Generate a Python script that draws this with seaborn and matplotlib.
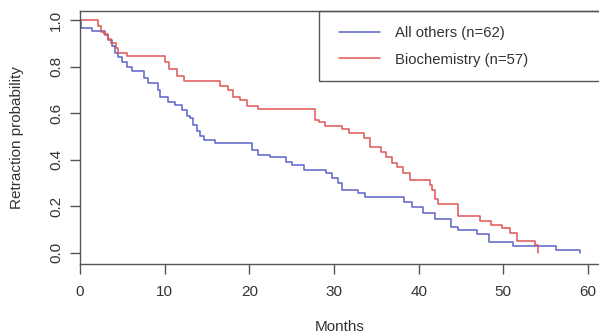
import matplotlib
matplotlib.use("Agg")
import matplotlib.pyplot as plt
import matplotlib.patches as mpatches
import seaborn as sns
import pandas as pd

# ---- data ----
group_labels = ["All others (n=62)", "Biochemistry (n=57)"]

others_months = [0, 0.1, 1.4, 3.0, 3.3, 3.8, 4.1, 4.5, 5.0, 5.5, 6.2, 7.6, 8.0,
                 9.2, 9.5, 10.4, 11.2, 12.0, 12.6, 13.0, 13.4, 13.8, 14.2, 14.7,
                 16.0, 20.3, 21.0, 22.4, 24.3, 25.0, 26.5, 29.1, 29.8, 30.5,
                 31.0, 32.8, 33.7, 38.3, 39.2, 40.5, 41.9, 43.8, 44.7, 46.9,
                 48.3, 51.2, 56.2, 59.0]
others_surv = [1.0, 0.968, 0.952, 0.935, 0.914, 0.89, 0.86, 0.84, 0.82, 0.80,
               0.78, 0.75, 0.73, 0.70, 0.67, 0.65, 0.635, 0.614, 0.59, 0.58,
               0.55, 0.524, 0.50, 0.485, 0.47, 0.44, 0.42, 0.41, 0.39, 0.377,
               0.356, 0.343, 0.32, 0.30, 0.27, 0.257, 0.24, 0.22, 0.197, 0.17,
               0.146, 0.11, 0.099, 0.08, 0.047, 0.03, 0.013, 0.0]

bio_months = [0, 2.1, 2.5, 2.8, 3.3, 3.7, 4.2, 4.5, 5.6, 10.0, 10.5, 11.5,
              12.3, 16.5, 17.5, 18.1, 18.9, 19.7, 21.0, 27.7, 28.2, 28.9,
              31.0, 31.8, 33.6, 34.3, 35.6, 36.2, 36.8, 37.5, 38.2, 39.0,
              41.3, 41.6, 41.9, 42.3, 44.7, 47.2, 48.6, 49.8, 50.8, 51.6,
              53.7, 54.1]
bio_surv = [1.0, 0.975, 0.95, 0.94, 0.92, 0.90, 0.88, 0.86, 0.845, 0.82, 0.79,
            0.76, 0.74, 0.717, 0.70, 0.67, 0.656, 0.63, 0.618, 0.57, 0.56,
            0.545, 0.53, 0.515, 0.494, 0.455, 0.433, 0.41, 0.386, 0.37, 0.345,
            0.315, 0.29, 0.27, 0.23, 0.21, 0.159, 0.137, 0.12, 0.107, 0.086,
            0.05, 0.034, 0.0]

x_ticks = [0, 10, 20, 30, 40, 50, 60]
y_ticks = [0.0, 0.2, 0.4, 0.6, 0.8, 1.0]
y_ticklabels = ["0.0", "0.2", "0.4", "0.6", "0.8", "1.0"]

df = pd.concat([
    pd.DataFrame({"Months": others_months, "surv": others_surv, "group": group_labels[0]}),
    pd.DataFrame({"Months": bio_months, "surv": bio_surv, "group": group_labels[1]}),
], ignore_index=True)

# ---- style ----
sns.set_theme(style="ticks")
plt.rcParams["font.family"] = ["Liberation Sans", "DejaVu Sans"]
text_col = "#333333"
axis_col = "#555555"

W, H = 599, 335
fig = plt.figure(figsize=(W / 100, H / 100), dpi=100)
ax_l, ax_r, ax_t, ax_b = 80, 599, 11, 264
ax = fig.add_axes([ax_l / W, 1 - ax_b / H, (ax_r - ax_l) / W, (ax_b - ax_t) / H])

palette = {group_labels[0]: "#5b63c9", group_labels[1]: "#e05555"}
sns.lineplot(data=df, x="Months", y="surv", hue="group", hue_order=group_labels,
             palette=palette, estimator=None, sort=False, drawstyle="steps-post",
             linewidth=1.1, ax=ax)

ax.set_xlim(0, 61.3)
ax.set_ylim(-0.048, 1.039)
ax.set_xticks(x_ticks)
ax.set_yticks(y_ticks)
ax.set_yticklabels(y_ticklabels)

for s in ["top", "left", "bottom"]:
    ax.spines[s].set_color(axis_col)
    ax.spines[s].set_linewidth(1.0)
ax.spines["right"].set_visible(False)

ax.tick_params(axis="both", direction="out", length=7, width=1.0, color=axis_col,
               labelcolor=text_col, labelsize=11)
ax.tick_params(axis="x", pad=8)
ax.tick_params(axis="y", pad=5, labelrotation=90)
for lab in ax.get_yticklabels():
    lab.set_va("center")

ax.set_xlabel("Months", fontsize=11, color=text_col)
ax.set_ylabel("Retraction probability", fontsize=11, color=text_col)
ax.xaxis.set_label_coords(0.5, -(327 - ax_b) / (ax_b - ax_t))
ax.xaxis.label.set_va("center")
ax.yaxis.set_label_coords(-(ax_l - 17) / (ax_r - ax_l), 0.5)
ax.yaxis.label.set_va("center")

# legend
handles, labels = ax.get_legend_handles_labels()
leg = ax.legend(handles, labels, loc="upper left", frameon=False, fontsize=10.7,
                bbox_to_anchor=(339 / W, 1 - 26 / H), bbox_transform=fig.transFigure,
                borderpad=0, borderaxespad=0, handlelength=2.75, handletextpad=1.05,
                labelspacing=0.85)
for t in leg.get_texts():
    t.set_color(text_col)
box = mpatches.Rectangle((319 / W, 1 - 81 / H), (640 - 319) / W, (81 - ax_t) / H,
                         transform=fig.transFigure, fill=False, edgecolor=axis_col,
                         linewidth=1.0, clip_on=False)
fig.patches.append(box)

fig.savefig("out.png", dpi=100)
